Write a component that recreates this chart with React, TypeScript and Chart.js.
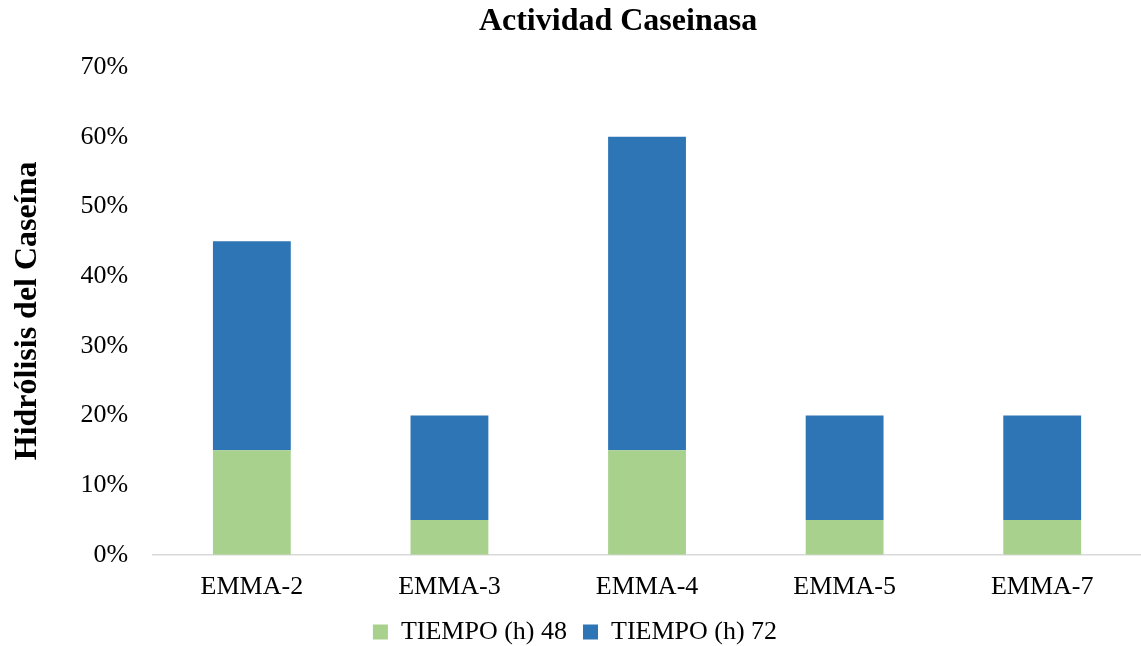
import React, { useEffect, useRef } from "react";
import { Chart, registerables } from "chart.js";

Chart.register(...registerables);

const categories = ["EMMA-2", "EMMA-3", "EMMA-4", "EMMA-5", "EMMA-7"];
const seriesLabels = ["TIEMPO (h) 48", "TIEMPO (h) 72"];
const hours48 = [15, 5, 15, 5, 5];
const hours72 = [30, 15, 45, 15, 15];
const chartTitle = "Actividad Caseinasa";
const yAxisTitle = "Hidrólisis del Caseína";

const FONT = "'Liberation Serif', 'Times New Roman', serif";
const X_TICK_PAD = 17;

// Draws the heading above the plot, slightly left of the plot's centre.
const headingPlugin = {
  id: "heading",
  afterDraw(chart: Chart) {
    const { ctx, chartArea } = chart;
    ctx.save();
    ctx.font = `bold 32px ${FONT}`;
    ctx.fillStyle = "#000";
    ctx.textAlign = "center";
    ctx.textBaseline = "middle";
    const cx = (chartArea.left + chartArea.right) / 2 - 29;
    ctx.fillText(chartTitle, cx, 22);
    ctx.restore();
  },
};

export default function App() {
  const ref = useRef<HTMLCanvasElement | null>(null);

  useEffect(() => {
    document.body.style.margin = "0";
    if (!ref.current) return;
    const chart = new Chart(ref.current, {
      type: "bar",
      data: {
        labels: categories,
        datasets: [
          {
            label: seriesLabels[0],
            data: hours48,
            backgroundColor: "#a9d18e",
            categoryPercentage: 1,
            barPercentage: 0.394,
          },
          {
            label: seriesLabels[1],
            data: hours72,
            backgroundColor: "#2e75b6",
            categoryPercentage: 1,
            barPercentage: 0.394,
          },
        ],
      },
      options: {
        animation: false,
        responsive: false,
        maintainAspectRatio: false,
        layout: { padding: { top: 67, right: 0, left: 9, bottom: -9 } },
        plugins: {
          title: { display: false },
          tooltip: { enabled: false },
          legend: {
            position: "bottom",
            labels: {
              font: { family: FONT, size: 26 },
              color: "#000",
              boxWidth: 15,
              boxHeight: 15,
              padding: 16,
            },
          },
        },
        scales: {
          x: {
            stacked: true,
            grid: { display: false, drawTicks: false },
            border: { display: true, color: "#d9d9d9", width: 1.5 },
            ticks: {
              font: { family: FONT, size: 26 },
              color: "#000",
              padding: X_TICK_PAD,
              maxRotation: 0,
            },
            // tick padding is reserved on both sides of the labels; keep only the top one
            afterFit(scale: any) {
              scale.height -= X_TICK_PAD;
            },
          },
          y: {
            stacked: true,
            min: 0,
            max: 70,
            grid: { display: false, drawTicks: false },
            border: { display: false },
            ticks: {
              stepSize: 10,
              font: { family: FONT, size: 26 },
              color: "#000",
              padding: 25,
              callback: (v: any) => `${v}%`,
            },
            title: {
              display: true,
              text: yAxisTitle,
              font: { family: FONT, size: 32, weight: "bold" },
              color: "#000",
              padding: { top: 0, bottom: 8 },
            },
          },
        },
      },
      plugins: [headingPlugin],
    });
    return () => chart.destroy();
  }, []);

  return (
    <div style={{ width: 1141, height: 646 }}>
      <canvas ref={ref} width={1141} height={646} />
    </div>
  );
}
